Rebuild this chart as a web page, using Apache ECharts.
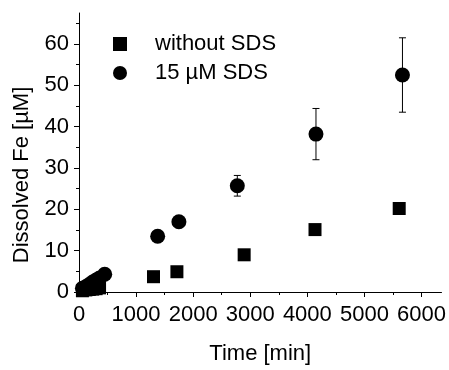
<!DOCTYPE html>
<html>
<head>
<meta charset="utf-8">
<script src="https://cdn.jsdelivr.net/npm/echarts@6/dist/echarts.min.js"></script>
<style>html,body{margin:0;padding:0;background:#fff}#c{width:449px;height:370px}</style>
</head>
<body>
<div id="c"></div>
<script>
// Data
var timeNoSDS = [60, 120, 180, 240, 300, 360, 1305, 1715, 2893, 4134, 5609];
var feNoSDS   = [0.3, 0.5, 0.6, 0.7, 0.8, 1.0, 3.7, 4.9, 9.0, 15.1, 20.2];
var timeSDS = [60, 120, 180, 240, 300, 360, 450, 1378, 1750, 2773, 4151, 5666];
var feSDS   = [0.9, 1.3, 1.8, 2.4, 2.9, 3.4, 4.3, 13.5, 17.0, 25.7, 38.2, 52.5];
var errSDS  = [0, 0, 0, 0, 0, 0, 0, 0, 0, 2.5, 6.2, 9.0];
var xMajor = [0, 1000, 2000, 3000, 4000, 5000, 6000];
var xMinor = [500, 1500, 2500, 3500, 4500, 5500];
var yMajor = [0, 10, 20, 30, 40, 50, 60];
var yMinor = [5, 15, 25, 35, 45, 55, 65];

var font = 'Liberation Sans, Arial, sans-serif';
function zip(a, b) { return a.map(function (v, i) { return [v, b[i]]; }); }
var errData = timeSDS.map(function (t, i) { return [t, feSDS[i] - errSDS[i], feSDS[i] + errSDS[i]]; })
  .filter(function (d, i) { return errSDS[i] > 0; });

var chart = echarts.init(document.getElementById('c'), null, { renderer: 'canvas' });
var axisLineStyle = { color: '#000', width: 1 };
var plain = function (v) { return String(v); };
chart.setOption({
  animation: false,
  backgroundColor: '#fff',
  grid: { left: 79, right: 0, top: 13, bottom: 70, containLabel: false },
  legend: {
    orient: 'vertical', left: 108, top: 28, itemWidth: 14, itemHeight: 14, itemGap: 7,
    textStyle: { fontFamily: font, fontSize: 22, color: '#000', padding: [0, 0, 0, 23] },
    data: ['without SDS', '15 µM SDS']
  },
  xAxis: [{
    type: 'value', min: 0, max: 6350,
    name: 'Time [min]', nameLocation: 'middle', nameGap: 51,
    nameTextStyle: { fontFamily: font, fontSize: 22, color: '#000' },
    axisLine: { show: true, onZero: false, lineStyle: axisLineStyle },
    axisTick: { show: true, inside: false, length: 5, lineStyle: axisLineStyle, customValues: xMajor },
    axisLabel: { fontFamily: font, fontSize: 22, color: '#000', margin: 12, customValues: xMajor, formatter: plain },
    splitLine: { show: false }
  }, {
    type: 'value', min: 0, max: 6350, position: 'bottom', offset: 0,
    axisLine: { show: false },
    axisTick: { show: true, inside: false, length: 3, lineStyle: axisLineStyle, customValues: xMinor },
    axisLabel: { show: false },
    splitLine: { show: false }
  }],
  yAxis: [{
    type: 'value', min: 0, max: 67.5,
    name: 'Dissolved Fe [µM]', nameLocation: 'middle', nameGap: 46,
    nameTextStyle: { fontFamily: font, fontSize: 22, color: '#000', padding: [0, 45, 0, 0] },
    axisLine: { show: true, onZero: false, lineStyle: axisLineStyle },
    axisTick: { show: true, inside: false, length: 5, lineStyle: axisLineStyle, customValues: yMajor },
    axisLabel: { fontFamily: font, fontSize: 22, color: '#000', margin: 10, customValues: yMajor, formatter: plain },
    splitLine: { show: false }
  }, {
    type: 'value', min: 0, max: 67.5, position: 'left', offset: 0,
    axisLine: { show: false },
    axisTick: { show: true, inside: false, length: 3, lineStyle: axisLineStyle, customValues: yMinor },
    axisLabel: { show: false },
    splitLine: { show: false }
  }],
  series: [{
    name: 'without SDS', type: 'scatter', symbol: 'rect', symbolSize: 13,
    itemStyle: { color: '#000', opacity: 1 }, data: zip(timeNoSDS, feNoSDS), z: 3
  }, {
    name: '15 µM SDS', type: 'scatter', symbol: 'circle', symbolSize: 15,
    itemStyle: { color: '#000', opacity: 1 }, data: zip(timeSDS, feSDS), z: 3
  }, {
    type: 'custom', name: 'err', data: errData, z: 2,
    renderItem: function (params, api) {
      var x = api.value(0);
      var lo = api.coord([x, api.value(1)]);
      var hi = api.coord([x, api.value(2)]);
      var hw = 3.5;
      var st = { stroke: '#000', lineWidth: 1 };
      return {
        type: 'group', children: [
          { type: 'line', shape: { x1: lo[0], y1: lo[1], x2: hi[0], y2: hi[1] }, style: st },
          { type: 'line', shape: { x1: lo[0] - hw, y1: lo[1], x2: lo[0] + hw, y2: lo[1] }, style: st },
          { type: 'line', shape: { x1: hi[0] - hw, y1: hi[1], x2: hi[0] + hw, y2: hi[1] }, style: st }
        ]
      };
    }
  }]
});
</script>
</body>
</html>
